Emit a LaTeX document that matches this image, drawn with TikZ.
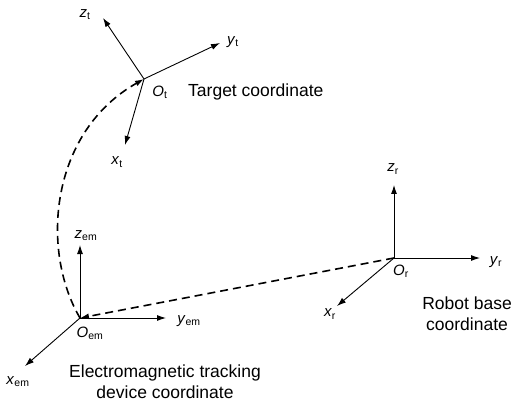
\documentclass[tikz,border=0pt]{standalone}
\usepackage{fontspec}
\setmainfont{Liberation Sans}
\usetikzlibrary{arrows.meta}
\begin{document}
\begin{tikzpicture}[x=1pt, y=-1pt,
	axis style/.style={-{Latex[length=9pt, width=6pt]}, line width=0.9pt},
	link style/.style={-{Latex[length=9pt, width=6pt]}, line width=1.6pt, dash pattern=on 8pt off 5pt},
	label style/.style={inner sep=0pt, font=\fontsize{15}{17}\selectfont},
	text style/.style={align=center, inner sep=0pt, font=\fontsize{17.5}{21}\selectfont}]
	\useasboundingbox (0,0) rectangle (516,403);
	% target frame
	\coordinate (Ot) at (144,79);
	\coordinate (zt) at (103,18);
	\coordinate (yt) at (220,43);
	\coordinate (xt) at (125,145);
	\draw[axis style] (Ot) -- (zt);
	\draw[axis style] (Ot) -- (yt);
	\draw[axis style] (Ot) -- (xt);
	\node[label style] (Lzt) at (85,15) {\textit{z}\textsubscript{t}};
	\node[label style] (Lyt) at (233,42) {\textit{y}\textsubscript{t}};
	\node[label style] (LOt) at (160,92) {\textit{O}\textsubscript{t}};
	\node[label style] (Lxt) at (117,162) {\textit{x}\textsubscript{t}};
	\node[text style, anchor=west] (Tt) at (188,92) {Target coordinate};
	% electromagnetic frame
	\coordinate (Oem) at (80,318);
	\coordinate (zem) at (80,245);
	\coordinate (yem) at (166,318);
	\coordinate (xem) at (25,366);
	\draw[axis style] (Oem) -- (zem);
	\draw[axis style] (Oem) -- (yem);
	\draw[axis style] (Oem) -- (xem);
	\node[label style] (Lzem) at (86,236) {\textit{z}\textsubscript{em}};
	\node[label style] (Lyem) at (189,321) {\textit{y}\textsubscript{em}};
	\node[label style] (LOem) at (90,333) {\textit{O}\textsubscript{em}};
	\node[label style] (Lxem) at (18,382) {\textit{x}\textsubscript{em}};
	\node[text style] (Tem) at (165,382) {Electromagnetic tracking\\device coordinate};
	% robot frame
	\coordinate (Or) at (394,258);
	\coordinate (zr) at (394,185);
	\coordinate (yr) at (480,258);
	\coordinate (xr) at (337,306);
	\draw[axis style] (Or) -- (zr);
	\draw[axis style] (Or) -- (yr);
	\draw[axis style] (Or) -- (xr);
	\node[label style] (Lzr) at (393,169) {\textit{z}\textsubscript{r}};
	\node[label style] (Lyr) at (496,262) {\textit{y}\textsubscript{r}};
	\node[label style] (LOr) at (401,271) {\textit{O}\textsubscript{r}};
	\node[label style] (Lxr) at (330,314) {\textit{x}\textsubscript{r}};
	\node[text style] (Tr) at (467,314) {Robot base\\coordinate};
	% links
	\draw[link style] (Oem) .. controls (40,250) and (50,132) .. (Ot);
	\draw[link style] (Or) -- (Oem);
\end{tikzpicture}
\end{document}
